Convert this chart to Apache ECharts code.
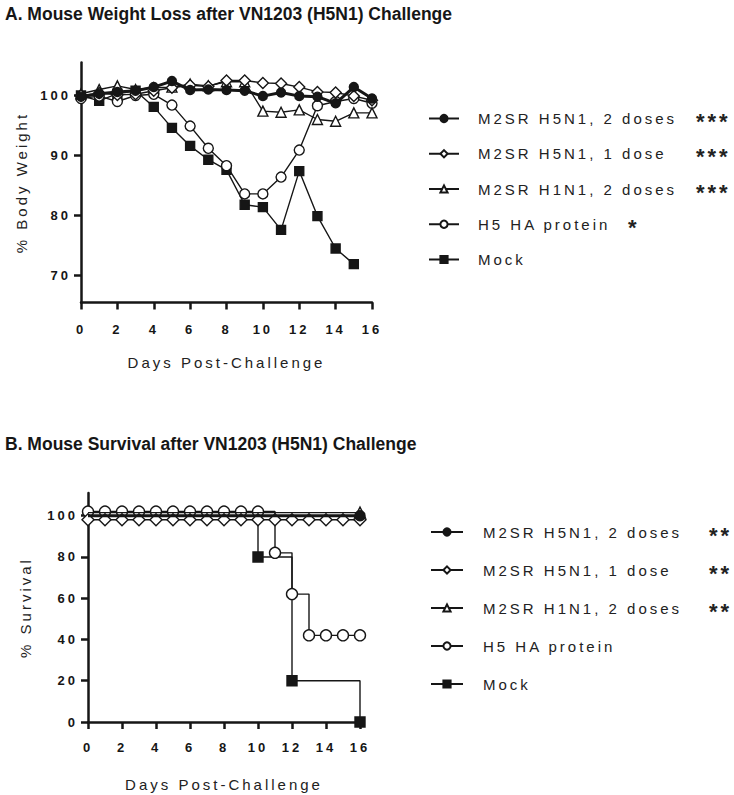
<!DOCTYPE html>
<html>
<head>
<meta charset="utf-8">
<script src="https://cdn.jsdelivr.net/npm/echarts@6/dist/echarts.min.js"></script>
<style>
  html, body { margin: 0; padding: 0; background: #fff; }
  #chart { width: 734px; height: 795px; }
  #chart svg text { letter-spacing: 3px; }
  #chart svg text[style*="17.5px"] { letter-spacing: 0; }
</style>
</head>
<body>
<div id="chart"></div>
<script>
// ---------- data ----------
const seriesNames = ['M2SR H5N1, 2 doses', 'M2SR H5N1, 1 dose', 'M2SR H1N1, 2 doses', 'H5 HA protein', 'Mock'];
const sigWeight = ['***', '***', '***', '*', ''];
const sigSurvival = ['**', '**', '**', '', ''];

const days = [0,1,2,3,4,5,6,7,8,9,10,11,12,13,14,15,16];
const xTicks = [0,2,4,6,8,10,12,14,16];
const weightTicks = [70,80,90,100];
const survivalTicks = [0,20,40,60,80,100];

// % body weight
const wH5N1_2 = [99.8,100.3,100.6,100.8,101.4,102.4,100.9,101.0,100.9,100.8,99.9,100.5,99.9,99.8,98.7,101.4,99.5];
const wH5N1_1 = [100.0,100.4,100.1,100.2,100.8,101.3,101.7,101.5,102.5,102.5,102.1,102.0,101.4,100.6,100.5,99.9,99.2];
const wH1N1_2 = [100.3,101.0,101.6,101.0,101.3,101.4,101.9,101.6,102.3,102.3,97.4,97.2,97.6,96.0,95.7,97.1,97.1];
const wHA     = [99.5,99.9,99.0,100.0,100.2,98.4,94.9,91.2,88.3,83.6,83.6,86.4,90.9,98.3,99.0,99.5,98.7];
const wMock   = [100.0,99.1,100.3,100.8,98.1,94.6,91.6,89.3,87.6,81.8,81.4,77.6,87.4,79.9,74.5,71.9];

// % survival (as plotted, with the small display offsets of the original)
const sH5N1_2 = [100,100,100,100,100,100,100,100,100,100,100,100,100,100,100,100,100];
const sH5N1_1 = [98,98,98,98,98,98,98,98,98,98,98,98,98,98,98,98,98];
const sH1N1_2 = [101.5,101.5,101.5,101.5,101.5,101.5,101.5,101.5,101.5,101.5,101.5,101.5,101.5,101.5,101.5,101.5,101.5];
const sHA     = [102,102,102,102,102,102,102,102,102,102,102,82,62,42,42,42,42];
const sMock   = [100,100,100,100,100,100,100,100,100,100,80,80,20,20,20,20,0];
// days on which a symbol is drawn on the survival curves
const markH5N1_2 = [16];
const markH5N1_1 = days;
const markH1N1_2 = [16];
const markHA     = days;
const markMock   = [10,12,16];

// ---------- styles ----------
const INK = '#161616';
const FONT = 'Liberation Sans, Arial, sans-serif';
const symStyles = [
  { symbol: 'circle',   fill: INK,    size: 9,  width: 3 },
  { symbol: 'diamond',  fill: '#fff', size: 11, width: 1.4 },
  { symbol: 'triangle', fill: '#fff', size: 10, width: 1.4 },
  { symbol: 'circle',   fill: '#fff', size: 10, width: 1.4 },
  { symbol: 'rect',     fill: INK,    size: 9,  width: 1.4 }
];

function pairs(vals) { return vals.map((v, i) => [days[i], v]); }

function lineSeries(idx, vals, grid, opts) {
  const st = symStyles[idx];
  const o = opts || {};
  let data = pairs(vals);
  if (o.marks) {
    data = data.map(p => o.marks.indexOf(p[0]) >= 0 ? { value: p } : { value: p, symbol: 'none' });
  }
  return {
    name: seriesNames[idx],
    type: 'line',
    xAxisIndex: grid, yAxisIndex: grid,
    data: data,
    step: o.step || false,
    symbol: st.symbol,
    symbolSize: o.size || st.size,
    showAllSymbol: true,
    animation: false,
    z: 10 - idx,
    lineStyle: { color: INK, width: st.width },
    itemStyle: { color: st.fill, borderColor: INK, borderWidth: 1.4, opacity: 1 },
    emphasis: { disabled: true }
  };
}

const axisLine = { show: true, onZero: false, lineStyle: { color: INK, width: 2.5 } };
const axisTickBase = { show: true, inside: false, length: 7, lineStyle: { color: INK, width: 2.5 } };
const tickLabel = { color: INK, fontFamily: FONT, fontWeight: 'bold', fontSize: 13 };
const nameStyle = { color: '#222', fontFamily: FONT, fontSize: 15 };

function xAxis(grid, gap, margin) {
  return {
    type: 'value', gridIndex: grid, min: 0, max: 16, interval: 2,
    axisLine: axisLine, axisTick: axisTickBase,
    axisLabel: Object.assign({ margin: margin }, tickLabel),
    splitLine: { show: false },
    name: 'Days Post-Challenge', nameLocation: 'middle', nameGap: gap,
    nameTextStyle: nameStyle
  };
}
function yAxis(grid, min, max, ticks, name, gap) {
  return {
    type: 'value', gridIndex: grid, min: min, max: max,
    axisLine: axisLine,
    axisTick: Object.assign({ customValues: ticks }, axisTickBase),
    axisLabel: Object.assign({ customValues: ticks, margin: 10 }, tickLabel),
    splitLine: { show: false },
    name: name, nameLocation: 'middle', nameGap: gap, nameRotate: 90,
    nameTextStyle: nameStyle
  };
}

function legendFor(left, top, gap, sig, textLeft, starCol, iconW) {
  return {
    orient: 'vertical', left: left, top: top, padding: 0,
    itemGap: gap, itemWidth: iconW, itemHeight: 9,
    selectedMode: false,
    data: seriesNames,
    formatter: function (name) {
      const i = seriesNames.indexOf(name);
      const s = sig[i] || '\u00a0';
      return (sig[i].length === 1 ? '{m|' : '{n|') + name + '}{s|' + s + '}';
    },
    textStyle: {
      color: '#222', fontFamily: FONT, fontSize: 15, lineHeight: 20,
      rich: {
        n: { width: starCol, fontSize: 15, lineHeight: 20, fontFamily: FONT, color: '#222', padding: [0, 0, 0, textLeft] },
        m: { width: 150, fontSize: 15, lineHeight: 20, fontFamily: FONT, color: '#222', padding: [0, 0, 0, textLeft] },
        s: { fontSize: 22, lineHeight: 15, fontWeight: 'bold', fontFamily: FONT, color: '#222', padding: [6, 0, 0, 0] }
      }
    }
  };
}

const option = {
  backgroundColor: '#fff',
  animation: false,
  title: [
    { text: 'A. Mouse Weight Loss after VN1203 (H5N1) Challenge', left: 0, top: 0,
      textStyle: { fontFamily: FONT, fontWeight: 'bold', fontSize: 17.5, color: INK } },
    { text: 'B. Mouse Survival after VN1203 (H5N1) Challenge', left: 0, top: 430,
      textStyle: { fontFamily: FONT, fontWeight: 'bold', fontSize: 17.5, color: INK } }
  ],
  grid: [
    { left: 81, top: 62.5, width: 291, height: 240 },
    { left: 88, top: 493, width: 272, height: 229 }
  ],
  xAxis: [xAxis(0, 52, 20), xAxis(1, 55, 19)],
  yAxis: [
    yAxis(0, 65.5, 105.5, weightTicks, '% Body Weight', 52),
    yAxis(1, 0, 111, survivalTicks, '% Survival', 55)
  ],
  legend: [
    legendFor(428, 104.5, 7.25, sigWeight, 14, 218, 30),
    legendFor(430, 518, 10, sigSurvival, 15, 226, 32)
  ],
  series: [
    lineSeries(4, wMock, 0),
    lineSeries(3, wHA, 0),
    lineSeries(2, wH1N1_2, 0),
    lineSeries(1, wH5N1_1, 0),
    lineSeries(0, wH5N1_2, 0),
    lineSeries(4, sMock, 1, { step: 'end', marks: markMock, size: 10 }),
    lineSeries(3, sHA, 1, { step: 'end', marks: markHA, size: 11 }),
    lineSeries(2, sH1N1_2, 1, { step: 'end', marks: markH1N1_2, size: 11 }),
    lineSeries(1, sH5N1_1, 1, { step: 'end', marks: markH5N1_1, size: 12 }),
    lineSeries(0, sH5N1_2, 1, { step: 'end', marks: markH5N1_2, size: 10 })
  ]
};

const chart = echarts.init(document.getElementById('chart'), null, { renderer: 'svg', width: 734, height: 795 });
chart.setOption(option);
</script>
</body>
</html>
